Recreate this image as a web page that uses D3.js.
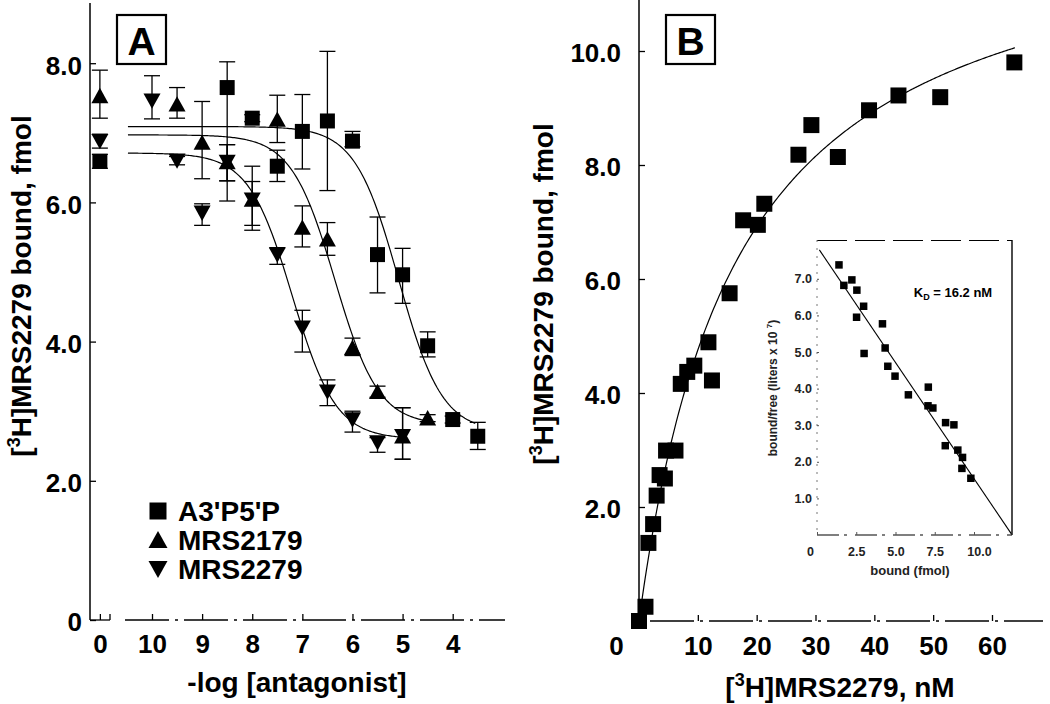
<!DOCTYPE html>
<html>
<head>
<meta charset="utf-8">
<script src="https://cdn.jsdelivr.net/npm/d3@7"></script>
<style>
  html, body { margin: 0; padding: 0; background: #fff; }
  svg { display: block; font-family: "Liberation Sans", Arial, Helvetica, sans-serif; }
</style>
</head>
<body>
<svg id="chart" width="1050" height="704"></svg>
<script>
// ---------------- Panel A data ----------------
const CONTROL = 11.04;                       // position of the "0" (no antagonist) point
const doseTicksA = [CONTROL, 10, 9, 8, 7, 6, 5, 4];
const doseLabelsA = ["0", "10", "9", "8", "7", "6", "5", "4"];
const yTicksA = [0, 2, 4, 6, 8];
const yLabelsA = ["0", "2.0", "4.0", "6.0", "8.0"];

const seriesNames = ["A3'P5'P", "MRS2179", "MRS2279"];

const a3p5pX  = [CONTROL, 8.5, 8, 7.5, 7, 6.5, 6, 5.5, 5, 4.5, 4, 3.5];
const a3p5pY  = [6.59, 7.65, 7.21, 6.52, 7.02, 7.17, 6.88, 5.25, 4.96, 3.94, 2.88, 2.64];
const a3p5pHi = [6.69, 8.02, 7.26, 6.75, 7.55, 8.17, 7.02, 5.79, 5.34, 4.14, 2.93, 2.84];
const a3p5pLo = [6.49, 6.02, 7.16, 6.30, 6.48, 6.17, 6.80, 4.70, 4.55, 3.78, 2.83, 2.45];

const mrs2179X  = [CONTROL, 9.5, 9, 8.5, 8, 7.5, 7, 6.5, 6, 5.5, 5, 4.5];
const mrs2179Y  = [7.53, 7.41, 6.86, 6.58, 6.04, 7.19, 5.64, 5.47, 3.91, 3.28, 2.64, 2.90];
const mrs2179Hi = [7.90, 7.65, 7.45, 6.83, 6.52, 7.54, 5.95, 5.71, 4.05, 3.36, 3.05, 2.95];
const mrs2179Lo = [7.21, 7.21, 6.34, 6.31, 5.60, 6.86, 5.36, 5.24, 3.80, 3.20, 2.31, 2.85];

const mrs2279X  = [CONTROL, 10, 9.5, 9, 8.5, 8, 7.5, 7, 6.5, 6, 5.5, 5];
const mrs2279Y  = [6.88, 7.46, 6.60, 5.85, 6.58, 6.04, 5.25, 4.20, 3.28, 2.88, 2.55, 2.64];
const mrs2279Hi = [6.98, 7.82, 6.66, 5.98, 6.83, 6.30, 5.35, 4.45, 3.45, 3.00, 2.62, 3.05];
const mrs2279Lo = [6.78, 7.20, 6.54, 5.67, 6.31, 5.67, 5.11, 3.85, 3.08, 2.70, 2.41, 2.31];

// fitted competition curves (four-parameter logistic, fit parameters)
const fitTop    = [7.09, 6.97, 6.71];
const fitBottom = [2.70, 2.80, 2.60];
const fitPIC50  = [5.08, 6.35, 7.20];
const fitStart  = [10.48, 10.48, 10.48];
const fitEnd    = [3.55, 4.5, 5.0];

// ---------------- Panel B data ----------------
const xTicksB = [0, 10, 20, 30, 40, 50, 60];
const yTicksB = [2, 4, 6, 8, 10];
const satX = [0, 1.1, 1.6, 2.4, 3.0, 3.5, 4.4, 4.6, 6.2, 7.1, 8.2, 9.4, 12.4, 11.8, 15.4, 17.7, 20.2, 21.3, 27.1, 29.3, 33.8, 39.1, 44.1, 51.2, 63.8];
const satY = [0.0, 0.25, 1.37, 1.70, 2.20, 2.56, 2.50, 2.99, 2.99, 4.16, 4.37, 4.48, 4.22, 4.89, 5.75, 7.03, 6.95, 7.32, 8.18, 8.70, 8.14, 8.96, 9.22, 9.19, 9.80];
const satBmax = [12.68];
const satKd = [16.67];
const satRange = [0.2, 63.9];

// Scatchard inset
const xTicksI = [0, 2.5, 5, 7.5, 10];
const xLabelsI = ["0", "2.5", "5.0", "7.5", "10.0"];
const yTicksI = [1, 2, 3, 4, 5, 6, 7];
const scatX = [1.40, 1.71, 2.22, 2.54, 2.97, 2.52, 4.17, 3.00, 4.34, 4.51, 4.97, 5.82, 7.09, 7.07, 7.38, 8.19, 8.72, 8.17, 8.97, 9.27, 9.23, 9.80];
const scatY = [7.38, 6.82, 6.97, 6.69, 6.25, 5.95, 5.77, 4.96, 5.11, 4.61, 4.34, 3.83, 4.04, 3.53, 3.47, 3.07, 3.01, 2.44, 2.32, 2.12, 1.82, 1.55];
const scatLineX = [0.15, 12.38];
const scatLineY = [7.79, 0.03];

// ---------------- drawing ----------------
const FONT = '"Liberation Sans", Arial, Helvetica, sans-serif';
const svg = d3.select("#chart");
svg.append("rect").attr("width", 1050).attr("height", 704).attr("fill", "#fff");

// marker shapes
function markerPath(type, s) {
  const h = s / 2;
  if (type === "square") return `M${-h},${-h}H${h}V${h}H${-h}Z`;
  if (type === "up") return `M0,${-h * 0.95}L${h},${h * 0.85}L${-h},${h * 0.85}Z`;
  return `M0,${h * 0.95}L${h},${-h * 0.85}L${-h},${-h * 0.85}Z`;
}

// ===== Panel A =====
const xA = d3.scaleLinear().domain([10, 4]).range([152, 452.7]);
const yA = d3.scaleLinear().domain([0, 8]).range([620, 63.2]);
const gA = svg.append("g");

const axAy = gA.append("g").attr("transform", "translate(90,0)")
  .call(d3.axisLeft(yA).tickValues(yTicksA).tickFormat((d, i) => yLabelsA[i])
    .tickSizeInner(-6).tickSizeOuter(0).tickPadding(8));
axAy.select(".domain").remove();
axAy.selectAll("text").attr("font-size", 26).attr("font-weight", "bold").attr("font-family", FONT).attr("dy", "0.42em");
axAy.selectAll("line").attr("stroke-width", 1.3);

const axAx = gA.append("g").attr("transform", "translate(0,620)")
  .call(d3.axisBottom(xA).tickValues(doseTicksA).tickFormat((d, i) => doseLabelsA[i])
    .tickSizeInner(-6).tickSizeOuter(0).tickPadding(15));
axAx.select(".domain").remove();
axAx.selectAll("text").attr("font-size", 26).attr("font-weight", "bold").attr("font-family", FONT);
axAx.selectAll("line").attr("stroke-width", 1.3);

// axis lines (with the break after the control point)
gA.append("line").attr("x1", 90).attr("x2", 90).attr("y1", 3).attr("y2", 620).attr("stroke", "#000").attr("stroke-width", 1.5);
gA.append("line").attr("x1", 90).attr("x2", 110).attr("y1", 620).attr("y2", 620).attr("stroke", "#000").attr("stroke-width", 1.3);
gA.append("line").attr("x1", 110).attr("x2", 110).attr("y1", 614).attr("y2", 620).attr("stroke", "#000").attr("stroke-width", 1.3);
gA.append("line").attr("x1", 125).attr("x2", 505).attr("y1", 620).attr("y2", 620)
  .attr("stroke", "#000").attr("stroke-width", 1.3).attr("stroke-dasharray", "44,6,3,6");

// fitted curves
for (let k = 0; k < 3; k++) {
  const pts = d3.range(0, 201).map(i => {
    const v = fitStart[k] + (fitEnd[k] - fitStart[k]) * i / 200;
    const y = fitBottom[k] + (fitTop[k] - fitBottom[k]) / (1 + Math.pow(10, fitPIC50[k] - v));
    return [xA(v), yA(y)];
  });
  gA.append("path").attr("d", d3.line()(pts)).attr("fill", "none").attr("stroke", "#000").attr("stroke-width", 1.2);
}

const seriesA = [
  { x: a3p5pX, y: a3p5pY, hi: a3p5pHi, lo: a3p5pLo, type: "square", size: 15 },
  { x: mrs2179X, y: mrs2179Y, hi: mrs2179Hi, lo: mrs2179Lo, type: "up", size: 17 },
  { x: mrs2279X, y: mrs2279Y, hi: mrs2279Hi, lo: mrs2279Lo, type: "down", size: 17 }
];
// error bars
seriesA.forEach(s => {
  s.x.forEach((xv, i) => {
    const cx = xA(xv);
    gA.append("line").attr("x1", cx).attr("x2", cx).attr("y1", yA(s.hi[i])).attr("y2", yA(s.lo[i]))
      .attr("stroke", "#000").attr("stroke-width", 1.3);
    [s.hi[i], s.lo[i]].forEach(e => {
      gA.append("line").attr("x1", cx - 8).attr("x2", cx + 8).attr("y1", yA(e)).attr("y2", yA(e))
        .attr("stroke", "#000").attr("stroke-width", 1.3);
    });
  });
});
// markers
seriesA.forEach(s => {
  s.x.forEach((xv, i) => {
    gA.append("path").attr("d", markerPath(s.type, s.size))
      .attr("transform", `translate(${xA(xv)},${yA(s.y[i])})`).attr("fill", "#000");
  });
});

// legend
const legTypes = ["square", "up", "down"];
seriesNames.forEach((n, i) => {
  const cy = 511 + i * 29;
  gA.append("path").attr("d", markerPath(legTypes[i], legTypes[i] === "square" ? 17 : 19))
    .attr("transform", `translate(158,${cy})`).attr("fill", "#000");
  gA.append("text").attr("x", 178).attr("y", cy + 9.5).text(n)
    .attr("font-size", 28).attr("font-weight", "bold").attr("font-family", FONT);
});

// panel letter A
gA.append("rect").attr("x", 117).attr("y", 15).attr("width", 49).attr("height", 49)
  .attr("fill", "#fff").attr("stroke", "#000").attr("stroke-width", 2.2);
gA.append("text").attr("x", 141.5).attr("y", 54.5).attr("text-anchor", "middle").text("A")
  .attr("font-size", 39).attr("font-weight", "bold").attr("font-family", FONT);

// axis titles A
function yTitle(g, x, y) {
  const t = g.append("text").attr("transform", `translate(${x},${y}) rotate(-90)`)
    .attr("text-anchor", "middle").attr("font-size", 28).attr("font-weight", "bold").attr("font-family", FONT);
  t.append("tspan").text("[");
  t.append("tspan").text("3").attr("font-size", 18).attr("dy", -11);
  t.append("tspan").text("H]MRS2279 bound, fmol").attr("dy", 11);
}
yTitle(gA, 31, 286);
gA.append("text").attr("x", 297).attr("y", 692).attr("text-anchor", "middle").text("-log [antagonist]")
  .attr("font-size", 28).attr("font-weight", "bold").attr("font-family", FONT);

// ===== Panel B =====
const xB = d3.scaleLinear().domain([0, 60]).range([639, 992]);
const yB = d3.scaleLinear().domain([0, 10]).range([621, 51]);
const gB = svg.append("g");

const axBy = gB.append("g").attr("transform", "translate(639,0)")
  .call(d3.axisLeft(yB).tickValues(yTicksB).tickFormat(d3.format(".1f"))
    .tickSizeInner(-6).tickSizeOuter(0).tickPadding(18));
axBy.select(".domain").remove();
axBy.selectAll("text").attr("font-size", 26).attr("font-weight", "bold").attr("font-family", FONT).attr("dy", "0.4em");
axBy.selectAll("line").attr("stroke-width", 1.3);

const axBx = gB.append("g").attr("transform", "translate(0,621)")
  .call(d3.axisBottom(xB).tickValues(xTicksB).tickFormat(d3.format("d"))
    .tickSizeInner(-6).tickSizeOuter(0).tickPadding(16));
axBx.select(".domain").remove();
axBx.selectAll("text").attr("font-size", 26).attr("font-weight", "bold").attr("font-family", FONT);
axBx.selectAll(".tick").filter(d => d === 0).select("text").attr("x", -23);
axBx.selectAll(".tick").filter(d => d === 0).select("line").remove();
axBx.selectAll("line").attr("stroke-width", 1.3);

gB.append("line").attr("x1", 639).attr("x2", 639).attr("y1", 0).attr("y2", 621).attr("stroke", "#000").attr("stroke-width", 1.5);
gB.append("line").attr("x1", 650).attr("x2", 1043).attr("y1", 621).attr("y2", 621)
  .attr("stroke", "#000").attr("stroke-width", 1.3).attr("stroke-dasharray", "44,6,3,6");

// saturation curve (one-site fit)
const satPts = d3.range(0, 301).map(i => {
  const c = satRange[0] + (satRange[1] - satRange[0]) * i / 300;
  return [xB(c), yB(satBmax[0] * c / (satKd[0] + c))];
});
gB.append("path").attr("d", d3.line()(satPts)).attr("fill", "none").attr("stroke", "#000").attr("stroke-width", 1.2);

satX.forEach((xv, i) => {
  gB.append("path").attr("d", markerPath("square", 16))
    .attr("transform", `translate(${xB(xv)},${yB(satY[i])})`).attr("fill", "#000");
});

gB.append("rect").attr("x", 666).attr("y", 15).attr("width", 49).attr("height", 49)
  .attr("fill", "#fff").attr("stroke", "#000").attr("stroke-width", 2.2);
gB.append("text").attr("x", 690.5).attr("y", 54.5).attr("text-anchor", "middle").text("B")
  .attr("font-size", 39).attr("font-weight", "bold").attr("font-family", FONT);

yTitle(gB, 553, 294);
const xtB = gB.append("text").attr("x", 840).attr("y", 697).attr("text-anchor", "middle")
  .attr("font-size", 28).attr("font-weight", "bold").attr("font-family", FONT);
xtB.append("tspan").text("[");
xtB.append("tspan").text("3").attr("font-size", 18).attr("dy", -11);
xtB.append("tspan").text("H]MRS2279, nM").attr("dy", 11);

// ===== Inset (Scatchard) =====
const xI = d3.scaleLinear().domain([0, 10]).range([817, 974]);
const yI = d3.scaleLinear().domain([0, 7]).range([535, 278.8]);
const gI = svg.append("g");

gI.append("line").attr("x1", 817).attr("x2", 1012).attr("y1", 240.5).attr("y2", 240.5)
  .attr("stroke", "#000").attr("stroke-width", 1.2).attr("stroke-dasharray", "30,8");
gI.append("line").attr("x1", 1012).attr("x2", 1012).attr("y1", 240).attr("y2", 535)
  .attr("stroke", "#000").attr("stroke-width", 1.4);
gI.append("line").attr("x1", 817).attr("x2", 817).attr("y1", 240).attr("y2", 535)
  .attr("stroke", "#777").attr("stroke-width", 1).attr("stroke-dasharray", "2,6");
gI.append("line").attr("x1", 817).attr("x2", 1012).attr("y1", 535).attr("y2", 535)
  .attr("stroke", "#000").attr("stroke-width", 1.2).attr("stroke-dasharray", "22,5,3,8");

const axIy = gI.append("g").attr("transform", "translate(817,0)")
  .call(d3.axisLeft(yI).tickValues(yTicksI).tickFormat(d3.format(".1f"))
    .tickSizeInner(-2).tickSizeOuter(0).tickPadding(5));
axIy.select(".domain").remove();
axIy.selectAll("text").attr("font-size", 12.5).attr("font-weight", "bold").attr("font-family", FONT).attr("fill", "#222");
axIy.selectAll("line").attr("stroke", "#555");

const axIx = gI.append("g").attr("transform", "translate(0,535)")
  .call(d3.axisBottom(xI).tickValues(xTicksI).tickFormat((d, i) => xLabelsI[i])
    .tickSizeInner(-3).tickSizeOuter(0).tickPadding(12));
axIx.select(".domain").remove();
axIx.selectAll("text").attr("font-size", 12.5).attr("font-weight", "bold").attr("font-family", FONT).attr("fill", "#222");
axIx.selectAll(".tick").filter(d => d === 0).select("text").attr("x", -7);
axIx.selectAll(".tick").filter(d => d === 10).select("text").attr("x", 5);
axIx.selectAll("line").attr("stroke", "#555");

gI.append("line")
  .attr("x1", xI(scatLineX[0])).attr("y1", yI(scatLineY[0]))
  .attr("x2", xI(scatLineX[1])).attr("y2", yI(scatLineY[1]))
  .attr("stroke", "#000").attr("stroke-width", 1.1);

scatX.forEach((xv, i) => {
  gI.append("path").attr("d", markerPath("square", 7.5))
    .attr("transform", `translate(${xI(xv)},${yI(scatY[i])})`).attr("fill", "#000");
});

const kd = gI.append("text").attr("x", 953).attr("y", 297).attr("text-anchor", "middle")
  .attr("font-size", 13).attr("font-weight", "bold").attr("font-family", FONT);
kd.append("tspan").text("K");
kd.append("tspan").text("D").attr("font-size", 9).attr("dy", 3);
kd.append("tspan").text(" = 16.2 nM").attr("dy", -3);

gI.append("text").attr("x", 910).attr("y", 575).attr("text-anchor", "middle").text("bound (fmol)")
  .attr("font-size", 13).attr("font-weight", "bold").attr("font-family", FONT).attr("fill", "#222");

const yti = gI.append("text").attr("transform", "translate(777,388) rotate(-90)").attr("text-anchor", "middle")
  .attr("font-size", 12).attr("font-weight", "bold").attr("font-family", FONT).attr("fill", "#222");
yti.append("tspan").text("bound/free (liters x 10 ");
yti.append("tspan").text("7").attr("font-size", 8).attr("dy", -5);
yti.append("tspan").text(")").attr("dy", 5);
</script>
</body>
</html>
